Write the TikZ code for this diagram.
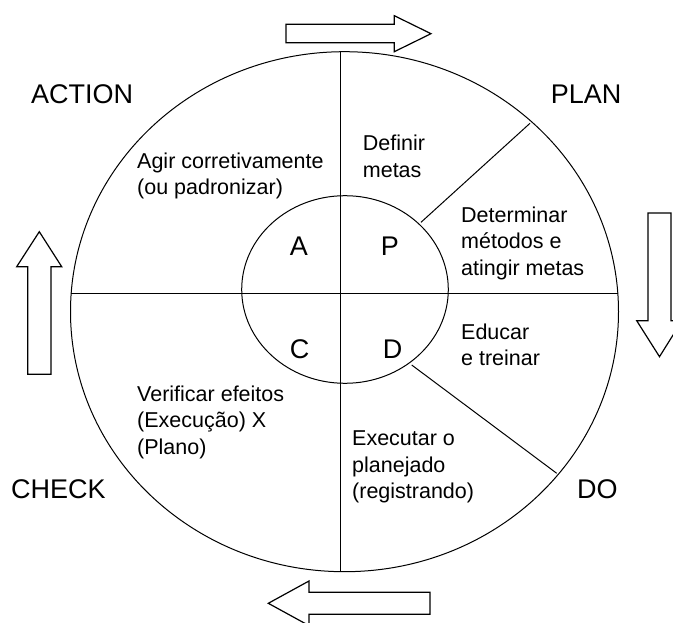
\documentclass[tikz,border=0pt]{standalone}
\usepackage{fontspec}
\setmainfont{Liberation Sans}
\begin{document}
\begin{tikzpicture}[x=1pt,y=-1pt,
  line/.style={draw=black,line width=1pt},
  barrow/.style={draw=black,line width=1.2pt,fill=white,line join=miter},
  small/.style={font=\fontsize{21.5}{26.5}\selectfont,anchor=base west,inner sep=0pt},
  big/.style={font=\fontsize{27}{32}\selectfont,anchor=base west,inner sep=0pt},
  letter/.style={font=\fontsize{27}{32}\selectfont,anchor=base,inner sep=0pt}]
\useasboundingbox (0,0) rectangle (673,623);
\fill[white] (0,0) rectangle (673,623);
% reference points
\coordinate (top) at (340.7,51.7);
\coordinate (bot) at (340.7,571.7);
\coordinate (lft) at (71,293.5);
\coordinate (rgt) at (618,293.5);
\coordinate (d1a) at (421,222.3);
\coordinate (d1b) at (530,123.3);
\coordinate (d2a) at (411.7,365);
\coordinate (d2b) at (556.7,473.3);
% circles
\draw[line] (344.5,311.7) ellipse [x radius=274pt, y radius=260pt];
\draw[line] (345,289.5) ellipse [x radius=103.3pt, y radius=93.8pt];
% dividers
\draw[line] (top) -- (bot);
\draw[line] (lft) -- (rgt);
\draw[line] (d1a) -- (d1b);
\draw[line] (d2a) -- (d2b);
% block arrows
\draw[barrow] (286,24.3) -- (394.3,24.3) -- (394.3,15.7) -- (431,33.7) -- (394.3,51.7) -- (394.3,42.7) -- (286,42.7) -- cycle;
\draw[barrow] (648,213) -- (671,213) -- (671,320.7) -- (682,320.7) -- (659.5,356.7) -- (636.7,320.7) -- (648,320.7) -- cycle;
\draw[barrow] (430,592.3) -- (309,592.3) -- (309,581) -- (268.3,603.3) -- (309,625.6) -- (309,614.3) -- (430,614.3) -- cycle;
\draw[barrow] (27.7,374.3) -- (27.7,266.7) -- (16.7,266.7) -- (39.3,231.7) -- (61.7,266.7) -- (51,266.7) -- (51,374.3) -- cycle;
% big labels
\node[big] (action) at (31,103.3) {ACTION};
\node[big] (plan) at (550.7,103.5) {PLAN};
\node[big] (check) at (11,498) {CHECK};
\node[big] (do) at (577,498.3) {DO};
% inner letters
\node[letter] (la) at (299,255.7) {A};
\node[letter] (lp) at (390,255.7) {P};
\node[letter] (lc) at (299.7,358.3) {C};
\node[letter] (ld) at (392.5,358.3) {D};
% sector texts
\node[small] (agir) at (137,168.3) {\vtop{\hbox{Agir corretivamente}\hbox{(ou padronizar)}}};
\node[small] (definir) at (362.7,151) {\vtop{\hbox{Definir}\hbox{metas}}};
\node[small] (determinar) at (461,222.3) {\vtop{\hbox{Determinar}\hbox{métodos e}\hbox{atingir metas}}};
\node[small] (educar) at (461,339.3) {\vtop{\hbox{Educar}\hbox{e treinar}}};
\node[small] (executar) at (352,445.8) {\vtop{\hbox{Executar o}\hbox{planejado}\hbox{(registrando)}}};
\node[small] (verificar) at (137,401) {\vtop{\hbox{Verificar efeitos}\hbox{(Execução) X}\hbox{(Plano)}}};
\end{tikzpicture}
\end{document}
